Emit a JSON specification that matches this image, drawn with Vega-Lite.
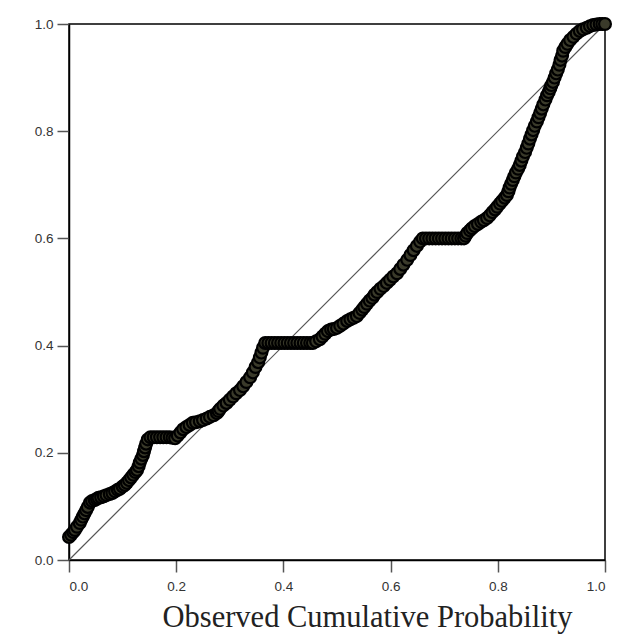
{
  "$schema": "https://vega.github.io/schema/vega-lite/v6.json",
  "width": 536,
  "height": 536,
  "autosize": {"type": "none"},
  "padding": {"left": 69, "top": 24, "right": 21, "bottom": 77},
  "background": "white",
  "config": {
    "view": {"stroke": "#000", "strokeWidth": 1.5},
    "axis": {
      "grid": false,
      "domainColor": "#000",
      "domainWidth": 1.5,
      "tickColor": "#555",
      "tickWidth": 1.5,
      "tickSize": 12,
      "labelFont": "Liberation Sans",
      "labelFontSize": 13.5,
      "labelColor": "#333"
    }
  },
  "datasets": {
    "diag": [{"obs": 0, "exp": 0}, {"obs": 1, "exp": 1}],
    "pts": [
      {"obs":0.000,"exp":0.043},{"obs":0.004,"exp":0.047},{"obs":0.008,"exp":0.052},{"obs":0.011,"exp":0.056},{"obs":0.015,"exp":0.062},{"obs":0.020,"exp":0.069},{"obs":0.023,"exp":0.075},{"obs":0.026,"exp":0.081},{"obs":0.029,"exp":0.087},{"obs":0.032,"exp":0.093},{"obs":0.035,"exp":0.099},{"obs":0.039,"exp":0.107},
      {"obs":0.043,"exp":0.110},{"obs":0.048,"exp":0.112},{"obs":0.052,"exp":0.114},{"obs":0.055,"exp":0.116},{"obs":0.060,"exp":0.117},{"obs":0.065,"exp":0.119},{"obs":0.070,"exp":0.121},{"obs":0.076,"exp":0.123},
      {"obs":0.081,"exp":0.125},{"obs":0.086,"exp":0.128},{"obs":0.091,"exp":0.131},{"obs":0.095,"exp":0.133},{"obs":0.100,"exp":0.137},{"obs":0.104,"exp":0.140},{"obs":0.108,"exp":0.144},
      {"obs":0.112,"exp":0.149},{"obs":0.116,"exp":0.154},{"obs":0.120,"exp":0.159},{"obs":0.124,"exp":0.164},{"obs":0.127,"exp":0.168},{"obs":0.130,"exp":0.175},{"obs":0.132,"exp":0.182},{"obs":0.135,"exp":0.189},{"obs":0.138,"exp":0.196},
      {"obs":0.140,"exp":0.203},{"obs":0.142,"exp":0.210},{"obs":0.144,"exp":0.217},{"obs":0.147,"exp":0.225},{"obs":0.152,"exp":0.229},{"obs":0.158,"exp":0.229},{"obs":0.164,"exp":0.229},{"obs":0.170,"exp":0.229},{"obs":0.176,"exp":0.229},{"obs":0.182,"exp":0.229},{"obs":0.188,"exp":0.229},
      {"obs":0.193,"exp":0.228},{"obs":0.198,"exp":0.227},{"obs":0.203,"exp":0.232},{"obs":0.208,"exp":0.238},{"obs":0.213,"exp":0.244},{"obs":0.219,"exp":0.248},{"obs":0.225,"exp":0.252},{"obs":0.231,"exp":0.256},
      {"obs":0.237,"exp":0.257},{"obs":0.244,"exp":0.259},{"obs":0.250,"exp":0.261},{"obs":0.257,"exp":0.264},{"obs":0.263,"exp":0.267},{"obs":0.270,"exp":0.270},{"obs":0.276,"exp":0.274},{"obs":0.279,"exp":0.278},{"obs":0.282,"exp":0.282},
      {"obs":0.288,"exp":0.288},{"obs":0.294,"exp":0.293},{"obs":0.300,"exp":0.299},{"obs":0.306,"exp":0.305},{"obs":0.312,"exp":0.311},{"obs":0.319,"exp":0.317},{"obs":0.325,"exp":0.324},{"obs":0.331,"exp":0.332},{"obs":0.338,"exp":0.341},
      {"obs":0.343,"exp":0.350},{"obs":0.348,"exp":0.360},{"obs":0.353,"exp":0.369},{"obs":0.356,"exp":0.378},{"obs":0.359,"exp":0.387},{"obs":0.362,"exp":0.396},{"obs":0.366,"exp":0.405},
      {"obs":0.372,"exp":0.405},{"obs":0.378,"exp":0.405},{"obs":0.384,"exp":0.405},{"obs":0.390,"exp":0.405},{"obs":0.396,"exp":0.405},{"obs":0.402,"exp":0.405},{"obs":0.408,"exp":0.405},{"obs":0.414,"exp":0.405},{"obs":0.420,"exp":0.405},{"obs":0.426,"exp":0.405},{"obs":0.432,"exp":0.405},{"obs":0.438,"exp":0.405},{"obs":0.444,"exp":0.405},{"obs":0.450,"exp":0.405},{"obs":0.455,"exp":0.405},
      {"obs":0.461,"exp":0.408},{"obs":0.468,"exp":0.412},{"obs":0.473,"exp":0.417},{"obs":0.478,"exp":0.422},{"obs":0.483,"exp":0.427},{"obs":0.489,"exp":0.430},{"obs":0.494,"exp":0.431},{"obs":0.500,"exp":0.433},
      {"obs":0.506,"exp":0.437},{"obs":0.512,"exp":0.441},{"obs":0.519,"exp":0.446},{"obs":0.525,"exp":0.449},{"obs":0.531,"exp":0.452},{"obs":0.537,"exp":0.455},{"obs":0.542,"exp":0.461},{"obs":0.547,"exp":0.467},{"obs":0.551,"exp":0.472},{"obs":0.556,"exp":0.478},
      {"obs":0.561,"exp":0.484},{"obs":0.566,"exp":0.489},{"obs":0.570,"exp":0.495},{"obs":0.575,"exp":0.500},{"obs":0.581,"exp":0.506},{"obs":0.587,"exp":0.511},{"obs":0.593,"exp":0.517},{"obs":0.599,"exp":0.523},{"obs":0.605,"exp":0.529},{"obs":0.612,"exp":0.535},
      {"obs":0.618,"exp":0.543},{"obs":0.624,"exp":0.551},{"obs":0.631,"exp":0.560},{"obs":0.637,"exp":0.569},{"obs":0.643,"exp":0.578},{"obs":0.649,"exp":0.586},{"obs":0.655,"exp":0.594},{"obs":0.660,"exp":0.600},
      {"obs":0.666,"exp":0.600},{"obs":0.672,"exp":0.600},{"obs":0.678,"exp":0.600},{"obs":0.684,"exp":0.600},{"obs":0.690,"exp":0.600},{"obs":0.696,"exp":0.600},{"obs":0.702,"exp":0.600},{"obs":0.708,"exp":0.600},{"obs":0.714,"exp":0.600},{"obs":0.720,"exp":0.600},{"obs":0.726,"exp":0.600},{"obs":0.732,"exp":0.600},{"obs":0.737,"exp":0.600},
      {"obs":0.740,"exp":0.605},{"obs":0.743,"exp":0.610},{"obs":0.748,"exp":0.615},{"obs":0.752,"exp":0.619},{"obs":0.757,"exp":0.623},{"obs":0.763,"exp":0.627},{"obs":0.769,"exp":0.631},{"obs":0.774,"exp":0.634},{"obs":0.780,"exp":0.638},
      {"obs":0.785,"exp":0.643},{"obs":0.790,"exp":0.649},{"obs":0.795,"exp":0.654},{"obs":0.799,"exp":0.659},{"obs":0.804,"exp":0.665},{"obs":0.808,"exp":0.670},{"obs":0.813,"exp":0.676},{"obs":0.817,"exp":0.681},
      {"obs":0.820,"exp":0.688},{"obs":0.822,"exp":0.695},{"obs":0.825,"exp":0.702},{"obs":0.828,"exp":0.709},{"obs":0.831,"exp":0.716},{"obs":0.834,"exp":0.723},{"obs":0.838,"exp":0.730},{"obs":0.841,"exp":0.737},
      {"obs":0.844,"exp":0.745},{"obs":0.847,"exp":0.753},{"obs":0.851,"exp":0.761},{"obs":0.854,"exp":0.769},{"obs":0.857,"exp":0.777},{"obs":0.860,"exp":0.786},{"obs":0.863,"exp":0.794},{"obs":0.866,"exp":0.802},
      {"obs":0.869,"exp":0.810},{"obs":0.873,"exp":0.818},{"obs":0.876,"exp":0.826},{"obs":0.879,"exp":0.834},{"obs":0.882,"exp":0.842},{"obs":0.885,"exp":0.850},{"obs":0.889,"exp":0.859},{"obs":0.892,"exp":0.867},
      {"obs":0.895,"exp":0.873},{"obs":0.898,"exp":0.880},{"obs":0.900,"exp":0.886},{"obs":0.903,"exp":0.892},{"obs":0.906,"exp":0.900},{"obs":0.909,"exp":0.908},{"obs":0.912,"exp":0.915},
      {"obs":0.915,"exp":0.924},{"obs":0.917,"exp":0.933},{"obs":0.920,"exp":0.941},{"obs":0.922,"exp":0.950},{"obs":0.926,"exp":0.957},{"obs":0.930,"exp":0.963},{"obs":0.935,"exp":0.970},
      {"obs":0.941,"exp":0.976},{"obs":0.947,"exp":0.982},{"obs":0.953,"exp":0.987},{"obs":0.959,"exp":0.990},{"obs":0.966,"exp":0.993},{"obs":0.972,"exp":0.996},{"obs":0.978,"exp":0.998},{"obs":0.984,"exp":0.999},{"obs":0.990,"exp":1.000},{"obs":0.995,"exp":1.000},{"obs":1.000,"exp":1.000}
    ]
  },
  "layer": [
    {
      "data": {"name": "diag"},
      "mark": {"type": "line", "color": "#555", "strokeWidth": 1.2},
      "encoding": {
        "x": {"field": "obs", "type": "quantitative", "scale": {"domain": [0, 1], "nice": false},
          "axis": {"values": [0, 0.2, 0.4, 0.6, 0.8, 1.0], "format": ".1f", "title": "Observed Cumulative Probability",
            "labelPadding": 7,
            "titleFont": "Liberation Serif", "titleFontSize": 30.5, "titleFontWeight": "normal", "titleColor": "#222", "titlePadding": 10, "titleX": 298}},
        "y": {"field": "exp", "type": "quantitative", "scale": {"domain": [0, 1], "nice": false},
          "axis": {"values": [0, 0.2, 0.4, 0.6, 0.8, 1.0], "format": ".1f", "title": null, "labelPadding": 4}}
      }
    },
    {
      "data": {"name": "pts"},
      "mark": {"type": "point", "shape": "circle", "filled": true, "fill": "#3a3a2a", "stroke": "#000", "strokeWidth": 2.2, "size": 140, "opacity": 1},
      "encoding": {
        "x": {"field": "obs", "type": "quantitative"},
        "y": {"field": "exp", "type": "quantitative"}
      }
    }
  ]
}
